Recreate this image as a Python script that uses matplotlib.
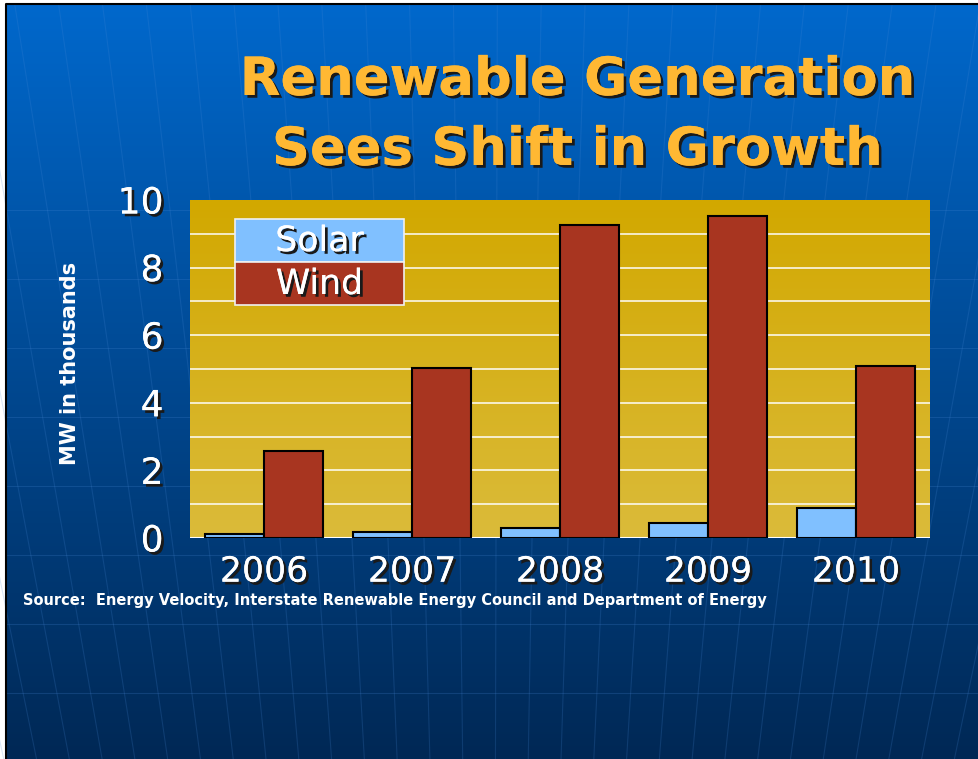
import numpy as np
import matplotlib
matplotlib.use('Agg')
import matplotlib.pyplot as plt
import matplotlib.patheffects as pe
from matplotlib.patches import Rectangle

# data -------------------------------------------------------------
years = ['2006', '2007', '2008', '2009', '2010']
solar = [0.12, 0.17, 0.30, 0.43, 0.90]
wind = [2.58, 5.04, 9.26, 9.52, 5.10]
y_ticks = [0, 2, 4, 6, 8, 10]

W, H = 979, 759
fig = plt.figure(figsize=(W / 100, H / 100), dpi=100)
fig.patch.set_facecolor('white')

# background slide ---------------------------------------------------
bg = fig.add_axes([0, 0, 1, 1])
bg.set_xlim(0, W)
bg.set_ylim(H, 0)
bg.axis('off')
top = np.array([0, 104, 204]) / 255
bot = np.array([0, 40, 85]) / 255
t = np.linspace(0, 1, 256)[:, None]
grad = top + (bot - top) * t
bg.imshow(grad[:, None, :].repeat(2, axis=1), extent=(6, W, H, 4), aspect='auto', zorder=0)

# faint globe lines
vx, vy = 490, 2990
for x0 in np.arange(-260, 1240, 36):
    ys = np.array([4, H])
    xs = vx + (x0 - vx) * (vy - ys) / (vy - 540)
    bg.plot(xs, ys, color='#4a8ad8', lw=0.8, alpha=0.2, zorder=1)
for yh in np.arange(210, H, 69):
    bg.plot([6, W], [yh, yh], color='#4a8ad8', lw=0.8, alpha=0.22, zorder=1)
bg.plot([6, 6, W], [H, 4, 4], color='black', lw=1.5, zorder=2)

shadow = [pe.withSimplePatchShadow(offset=(2, -2), shadow_rgbFace='#1a1a1a', alpha=1.0), pe.Normal()]

# title
fig.text(577 / W, 1 - 80 / H, 'Renewable Generation', ha='center', va='center',
         fontsize=38, fontweight='bold', color='#FFB833', path_effects=shadow)
fig.text(577 / W, 1 - 150 / H, 'Sees Shift in Growth', ha='center', va='center',
         fontsize=38, fontweight='bold', color='#FFB833', path_effects=shadow)

# chart ----------------------------------------------------------------
ax = fig.add_axes([190 / W, 1 - 538 / H, 740 / W, 338 / H])
x = np.arange(len(years))
ax.set_xlim(-0.5, len(years) - 0.5)
ax.set_ylim(0, 10)

gold_top = np.array([210, 168, 0]) / 255
gold_bot = np.array([219, 187, 58]) / 255
g = gold_top + (gold_bot - gold_top) * t
ax.imshow(g[:, None, :].repeat(2, axis=1), extent=(-0.5, len(years) - 0.5, 0, 10),
          aspect='auto', zorder=0)
for yy in range(1, 10):
    ax.axhline(yy, color='white', lw=1.2, alpha=0.9, zorder=1)
ax.axhline(0, color='white', lw=1.5, zorder=1)

bw = 0.4
ax.bar(x - bw / 2, solar, bw, color='#80C0FF', edgecolor='black', lw=1.5, zorder=3)
ax.bar(x + bw / 2, wind, bw, color='#A83520', edgecolor='black', lw=1.5, zorder=3)

for s in ax.spines.values():
    s.set_visible(False)
ax.set_xticks(x)
ax.set_xticklabels(years)
ax.set_yticks(y_ticks)
ax.tick_params(length=0, labelcolor='white')
ax.tick_params(axis='x', pad=12, labelsize=25)
ax.tick_params(axis='y', pad=19, labelsize=26)
for lab in ax.get_xticklabels() + ax.get_yticklabels():
    lab.set_path_effects(shadow)

# legend as two coloured cells
leg_ax = fig.add_axes([0, 0, 1, 1], facecolor='none')
leg_ax.set_xlim(0, W)
leg_ax.set_ylim(H, 0)
leg_ax.axis('off')
leg_x, leg_w = 235, 169
for row, (name, col) in enumerate([('Solar', '#80C0FF'), ('Wind', '#A83520')]):
    y0 = 219 + row * 43
    leg_ax.add_patch(Rectangle((leg_x, y0), leg_w, 43, facecolor=col, edgecolor='#f0f0f0', lw=1.2))
    leg_ax.text(leg_x + leg_w / 2, y0 + 22, name, ha='center', va='center', fontsize=25,
                color='white', path_effects=shadow)

fig.text(70 / W, 1 - 363 / H, 'MW in thousands', rotation=90, ha='center', va='center',
         fontsize=15, fontweight='bold', color='white')
fig.text(23 / W, 1 - 601 / H, 'Source:  Energy Velocity, Interstate Renewable Energy Council and Department of Energy',
         ha='left', va='center', fontsize=10.5, fontweight='bold', color='white')

fig.savefig('out.png', dpi=100, facecolor='white')
